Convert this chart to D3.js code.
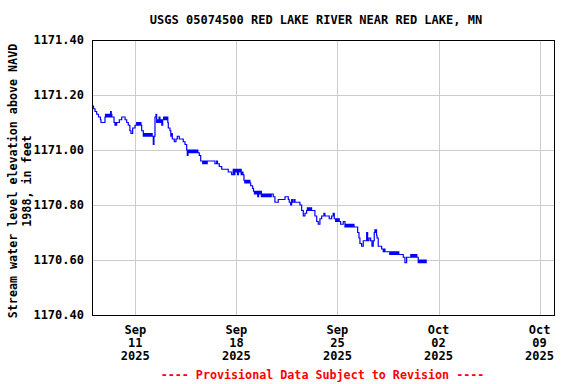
<!DOCTYPE html>
<html>
<head>
<meta charset="utf-8">
<script src="https://cdn.jsdelivr.net/npm/d3@7"></script>
<style>
  body { margin: 0; background: #fff; }
  text { font-family: "DejaVu Sans Mono", "Liberation Mono", monospace; font-weight: bold; font-size: 12px; }
</style>
</head>
<body>
<svg id="chart" width="576" height="384"></svg>
<script>
// ---- data ----
const title = "USGS 05074500 RED LAKE RIVER NEAR RED LAKE, MN";
const yAxisLines = ["Stream water level elevation above NAVD", "1988, in feet"];
const footer = "---- Provisional Data Subject to Revision ----";
const startTime = [2025, 8, 8, 0, 0];   // 2025-09-08 00:00
const domainEnd = [2025, 9, 10, 0, 0];  // 2025-10-10 00:00
const yTicks = [1170.40, 1170.60, 1170.80, 1171.00, 1171.20, 1171.40];
const xTickDates = [[2025, 8, 11], [2025, 8, 18], [2025, 8, 25], [2025, 9, 2], [2025, 9, 9]];
const xTickLabels = [["Sep", "11", "2025"], ["Sep", "18", "2025"], ["Sep", "25", "2025"], ["Oct", "02", "2025"], ["Oct", "09", "2025"]];
// [hours since start, elevation ft]
const readings = [
[0,1171.16],[2.5,1171.15],[5,1171.14],[7.8,1171.13],[10.8,1171.12],[14,1171.11],[15,1171.10],
[21.6,1171.12],[22.5,1171.13],[24,1171.12],[25.5,1171.13],[27,1171.12],[28.5,1171.13],[30,1171.12],
[31,1171.14],[32,1171.13],[33,1171.12],[36.6,1171.10],[38.2,1171.09],[39,1171.10],[40,1171.09],
[41,1171.10],[45.4,1171.11],[49.4,1171.12],[55,1171.11],[57.7,1171.10],[60.3,1171.09],[63,1171.07],
[64.8,1171.06],[67.6,1171.08],[71.5,1171.09],[74.3,1171.10],[75.5,1171.09],[76.5,1171.10],[77.5,1171.09],
[78.5,1171.10],[79.5,1171.09],[80.5,1171.10],[81.4,1171.09],[82.6,1171.07],[85.3,1171.05],[86.5,1171.06],
[88,1171.05],[89.5,1171.06],[91,1171.05],[92.5,1171.06],[94,1171.05],[95.5,1171.06],[97,1171.05],
[98.5,1171.06],[100,1171.05],[101.9,1171.02],[103,1171.05],[104.7,1171.12],[106.4,1171.13],[107.5,1171.10],
[108.5,1171.11],[110,1171.10],[111.5,1171.12],[113,1171.10],[114.5,1171.11],[116,1171.09],[117.5,1171.11],
[119,1171.12],[120.5,1171.11],[122,1171.12],[123.5,1171.11],[125,1171.12],[126,1171.10],[126.8,1171.08],
[129.6,1171.07],[131,1171.05],[132,1171.06],[133.5,1171.04],[136.8,1171.03],[139.6,1171.04],[141.8,1171.05],
[145.1,1171.04],[151.7,1171.03],[154.6,1171.02],[157.4,1171.00],[158.4,1170.98],[159.6,1171.00],[161,1170.99],
[162.5,1171.00],[164,1170.99],[165.5,1171.00],[167,1170.99],[168.5,1171.00],[170,1170.99],[171.5,1171.00],
[173,1170.99],[174.5,1171.00],[176,1170.99],[178.3,1170.98],[180.7,1170.96],[184,1170.95],[185.5,1170.96],
[187,1170.95],[188.5,1170.96],[190,1170.95],[191.5,1170.96],[204.4,1170.95],[207.2,1170.96],[208.6,1170.95],
[211.6,1170.94],[215.6,1170.93],[226.5,1170.92],[232.2,1170.91],[234.8,1170.93],[236,1170.91],[237.5,1170.93],
[239,1170.92],[240.5,1170.93],[242,1170.91],[243.5,1170.93],[245,1170.92],[246.5,1170.93],[248,1170.91],
[249.5,1170.92],[251,1170.91],[252.6,1170.89],[254,1170.88],[255.5,1170.89],[257,1170.88],[258.5,1170.89],
[260,1170.88],[261.5,1170.89],[262.5,1170.88],[263.8,1170.87],[267.1,1170.86],[268.5,1170.85],[270,1170.84],
[271,1170.85],[272.5,1170.84],[274,1170.85],[275.5,1170.83],[277,1170.85],[278.5,1170.84],[280,1170.85],
[281.5,1170.83],[283,1170.84],[284.5,1170.83],[286,1170.84],[287.5,1170.83],[289,1170.84],[290.5,1170.83],
[292,1170.84],[293.5,1170.83],[295,1170.84],[296.5,1170.83],[298,1170.84],[301.3,1170.83],[304.1,1170.81],
[309.6,1170.82],[320.8,1170.83],[326.3,1170.82],[327.9,1170.81],[330.2,1170.80],[331.9,1170.82],[333.2,1170.81],
[335.7,1170.82],[337.4,1170.81],[345.7,1170.80],[348.5,1170.78],[351.2,1170.76],[354,1170.77],[356.8,1170.78],
[358,1170.79],[359.5,1170.78],[361,1170.79],[362.5,1170.78],[364,1170.79],[365,1170.78],[370.6,1170.76],
[373.5,1170.74],[376.1,1170.73],[378.9,1170.75],[381.8,1170.76],[385.6,1170.77],[387.2,1170.76],[394.4,1170.75],
[398.4,1170.76],[401,1170.77],[402.7,1170.75],[405,1170.74],[406.5,1170.75],[408,1170.74],[409.5,1170.75],
[411,1170.74],[413.3,1170.73],[417.7,1170.74],[420.5,1170.72],[422,1170.73],[423.5,1170.72],[425,1170.73],
[426.5,1170.72],[428,1170.73],[429.5,1170.72],[431,1170.73],[432.5,1170.72],[434,1170.73],[435.5,1170.72],
[441.6,1170.70],[443.8,1170.68],[445.4,1170.66],[448.2,1170.65],[450.9,1170.67],[456.6,1170.70],[458.2,1170.67],
[460.4,1170.68],[463.2,1170.67],[465.4,1170.65],[467.5,1170.67],[469.2,1170.70],[470.3,1170.71],[471,1170.70],
[472,1170.71],[473,1170.69],[473.8,1170.68],[475.8,1170.65],[481.5,1170.64],[484.1,1170.63],[485.5,1170.64],
[487,1170.63],[495,1170.62],[496.5,1170.63],[498,1170.62],[499.5,1170.63],[501,1170.62],[502.5,1170.63],
[504,1170.62],[505.5,1170.63],[507,1170.62],[508.5,1170.63],[510,1170.62],[517.4,1170.61],[520.2,1170.59],
[523,1170.61],[530,1170.62],[531.5,1170.61],[533,1170.62],[534.5,1170.61],[536,1170.62],[537.5,1170.61],
[539,1170.62],[540,1170.61],[542.3,1170.59],[543.5,1170.60],[545,1170.59],[546.5,1170.60],[548,1170.59],
[549.5,1170.60],[551,1170.59],[552.5,1170.60],[554,1170.59],[555.5,1170.60],[556.5,1170.60]
];

// ---- layout ----
const plot = { left: 92, right: 554, top: 40, bottom: 315 };
const svg = d3.select("#chart");
const t0 = new Date(...startTime);
const data = readings.map(d => ({ t: new Date(t0.getTime() + d[0] * 3600e3), v: d[1] }));

const x = d3.scaleTime().domain([t0, new Date(...domainEnd)]).range([plot.left, plot.right]);
const y = d3.scaleLinear().domain([1170.40, 1171.40]).range([plot.bottom, plot.top]);
const crisp = v => Math.round(v) + 0.5;

// grid
const grid = svg.append("g");
grid.selectAll("line.yg").data(yTicks.slice(1, -1)).join("line")
  .attr("x1", plot.left).attr("x2", plot.right)
  .attr("y1", d => crisp(y(d))).attr("y2", d => crisp(y(d)))
  .attr("stroke", "#cccccc").attr("stroke-width", 1);
grid.selectAll("line.xg").data(xTickDates).join("line")
  .attr("x1", d => crisp(x(new Date(...d)))).attr("x2", d => crisp(x(new Date(...d))))
  .attr("y1", plot.top).attr("y2", plot.bottom)
  .attr("stroke", "#cccccc").attr("stroke-width", 1);

// line
const line = d3.line().x(d => x(d.t)).y(d => y(d.v)).curve(d3.curveStepAfter);
svg.append("path").datum(data)
  .attr("d", line)
  .attr("fill", "none").attr("stroke", "#0000ff").attr("stroke-width", 1.2);

// frame
svg.append("rect")
  .attr("x", plot.left + 0.5).attr("y", plot.top + 0.5)
  .attr("width", plot.right - plot.left).attr("height", plot.bottom - plot.top)
  .attr("fill", "none").attr("stroke", "#000").attr("stroke-width", 1);

// y tick labels
svg.append("g").selectAll("text").data(yTicks).join("text")
  .attr("x", plot.left - 8).attr("y", d => y(d)).attr("dy", "0.35em")
  .attr("text-anchor", "end").attr("fill", "#000")
  .text(d => d3.format(".2f")(d));

// x tick labels
const xl = svg.append("g").selectAll("text").data(xTickDates).join("text")
  .attr("text-anchor", "middle").attr("fill", "#000")
  .attr("transform", d => `translate(${x(new Date(...d))},0)`);
xl.selectAll("tspan").data((d, i) => xTickLabels[i]).join("tspan")
  .attr("x", 0).attr("y", (d, j) => 334 + j * 13).text(d => d);

// title
svg.append("text").attr("x", 316).attr("y", 24)
  .attr("text-anchor", "middle").attr("fill", "#000").text(title);

// y axis title
svg.append("g").selectAll("text").data(yAxisLines).join("text")
  .attr("text-anchor", "middle").attr("fill", "#000")
  .style("font-size", "11.7px")
  .attr("transform", (d, i) => `translate(${17 + i * 14},181) rotate(-90)`)
  .text(d => d);

// footer
svg.append("text").attr("x", 322.5).attr("y", 379)
  .attr("text-anchor", "middle").attr("fill", "#ff0000")
  .style("font-size", "11.7px").text(footer);
</script>
</body>
</html>
